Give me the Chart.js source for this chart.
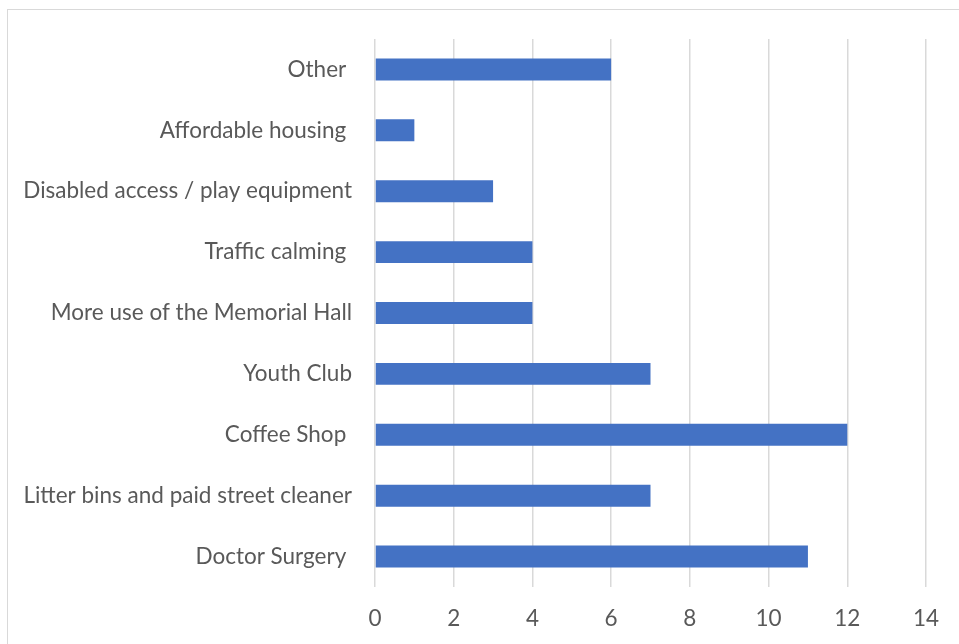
<!DOCTYPE html>
<html>
<head>
<meta charset="utf-8">
<script src="https://cdn.jsdelivr.net/npm/chart.js@4.4.1/dist/chart.umd.min.js"></script>
<style>
  html, body { margin: 0; padding: 0; background: #ffffff; overflow: hidden; }
  #wrap { position: relative; width: 959px; height: 644px; }
  #frame {
    position: absolute; left: 7px; top: 9px; width: 1000px; height: 700px;
    border: 1px solid #d9d9d9; box-sizing: border-box;
  }
  canvas { position: absolute; left: 0; top: 0; }
</style>
</head>
<body>
<div id="wrap">
  <div id="frame"></div>
  <canvas id="barChart" width="959" height="644"></canvas>
</div>
<script>
const categories = [
  "Other ",
  "Affordable housing ",
  "Disabled access / play equipment",
  "Traffic calming ",
  "More use of the Memorial Hall",
  "Youth Club",
  "Coffee Shop ",
  "Litter bins and paid street cleaner",
  "Doctor Surgery ",
];
const counts = [6, 1, 3, 4, 4, 7, 12, 7, 11];
const xTicks = [0, 2, 4, 6, 8, 10, 12, 14];

const labelFont = { family: "Lato, 'Open Sans', sans-serif", size: 22.5 };
const textColor = "#595959";

new Chart(document.getElementById("barChart"), {
  type: "bar",
  data: {
    labels: categories,
    datasets: [
      {
        label: "Responses",
        data: counts,
        backgroundColor: "#4472c4",
        borderWidth: 0,
        barPercentage: 0.36,
        categoryPercentage: 1,
      },
    ],
  },
  options: {
    indexAxis: "y",
    responsive: false,
    animation: false,
    devicePixelRatio: 1,
    layout: {
      padding: { left: 0, right: 33, top: 39, bottom: 0 },
    },
    plugins: {
      legend: { display: false },
      tooltip: { enabled: false },
    },
    scales: {
      x: {
        min: xTicks[0],
        max: xTicks[xTicks.length - 1],
        afterBuildTicks(axis) {
          axis.ticks = xTicks.map((v) => ({ value: v }));
        },
        afterFit(axis) {
          axis.height = 57;
        },
        grid: {
          color: "#d9d9d9",
          lineWidth: 1.5,
          drawTicks: false,
        },
        border: { display: false },
        ticks: {
          color: textColor,
          font: labelFont,
          padding: 18,
        },
      },
      y: {
        afterFit(axis) {
          axis.width = 375;
        },
        grid: { display: false, drawTicks: false },
        border: { display: false },
        ticks: {
          color: textColor,
          font: labelFont,
          padding: 23,
          autoSkip: false,
        },
      },
    },
  },
});
</script>
</body>
</html>
